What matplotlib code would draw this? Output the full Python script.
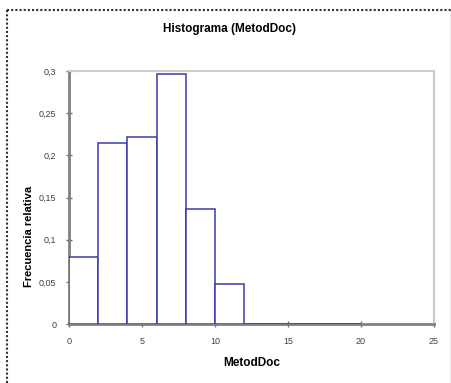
import matplotlib.pyplot as plt
from matplotlib.lines import Line2D

plt.rcParams['font.family'] = ['Liberation Sans', 'DejaVu Sans']

# histogram data (bins of width 2)
bin_edges = [0, 2, 4, 6, 8, 10, 12, 14, 16, 18, 20]
rel_freq = [0.08, 0.215, 0.222, 0.296, 0.136, 0.048, 0.0, 0.0, 0.0, 0.0]
x_ticks = [0, 5, 10, 15, 20, 25]
y_ticks = [0, 0.05, 0.1, 0.15, 0.2, 0.25, 0.3]
y_labels = ['0', '0,05', '0,1', '0,15', '0,2', '0,25', '0,3']

fig = plt.figure(figsize=(4.52, 3.83), dpi=100)
ax = fig.add_axes([0.1527, 0.154, 0.8073, 0.6606])

lefts = bin_edges[:-1]
widths = [b - a for a, b in zip(bin_edges[:-1], bin_edges[1:])]
ax.bar(lefts, rel_freq, width=widths, align='edge', facecolor='white',
       edgecolor='#3a3aa8', linewidth=1.1, zorder=3)

ax.set_xlim(0, 25)
ax.set_ylim(0, 0.3)
ax.set_xticks(x_ticks)
ax.set_xticklabels([str(t) for t in x_ticks])
ax.set_yticks(y_ticks)
ax.set_yticklabels(y_labels)
ax.tick_params(axis='both', direction='inout', length=4, width=1,
               color='#707070', labelsize=6.5, labelcolor='#404040')
ax.tick_params(axis='y', pad=7)
ax.tick_params(axis='x', pad=7)

for side in ['left', 'bottom']:
    ax.spines[side].set_color('#808080')
    ax.spines[side].set_linewidth(2)
for side in ['top', 'right']:
    ax.spines[side].set_color('#cccccc')
    ax.spines[side].set_linewidth(1.5)

# title is centred on the whole chart, not on the plot area
fig.text(230 / 452, 1 - 29 / 383, 'Histograma (MetodDoc)', fontsize=8.5,
         fontweight='bold', ha='center', va='center')
ax.set_xlabel('MetodDoc', fontsize=8.5, fontweight='bold', labelpad=8)
ax.set_ylabel('Frecuencia relativa', fontsize=8, fontweight='bold',
              va='center')
ax.yaxis.set_label_coords(-0.11, 0.348)

# outer frame of the chart area: dotted top and left, plain grey right
frame_top = (383 - 10) / 383
frame_left = 7 / 452
dots = dict(transform=fig.transFigure, color='#303030', linewidth=1.5,
            linestyle=(0, (1, 1)))
fig.lines.append(Line2D([frame_left, 451 / 452], [frame_top, frame_top], **dots))
fig.lines.append(Line2D([frame_left, frame_left], [0, frame_top], **dots))
fig.lines.append(Line2D([451 / 452, 451 / 452], [0, frame_top],
                        transform=fig.transFigure, color='#a0a0a0', linewidth=1))

fig.savefig('out.png', dpi=100)
